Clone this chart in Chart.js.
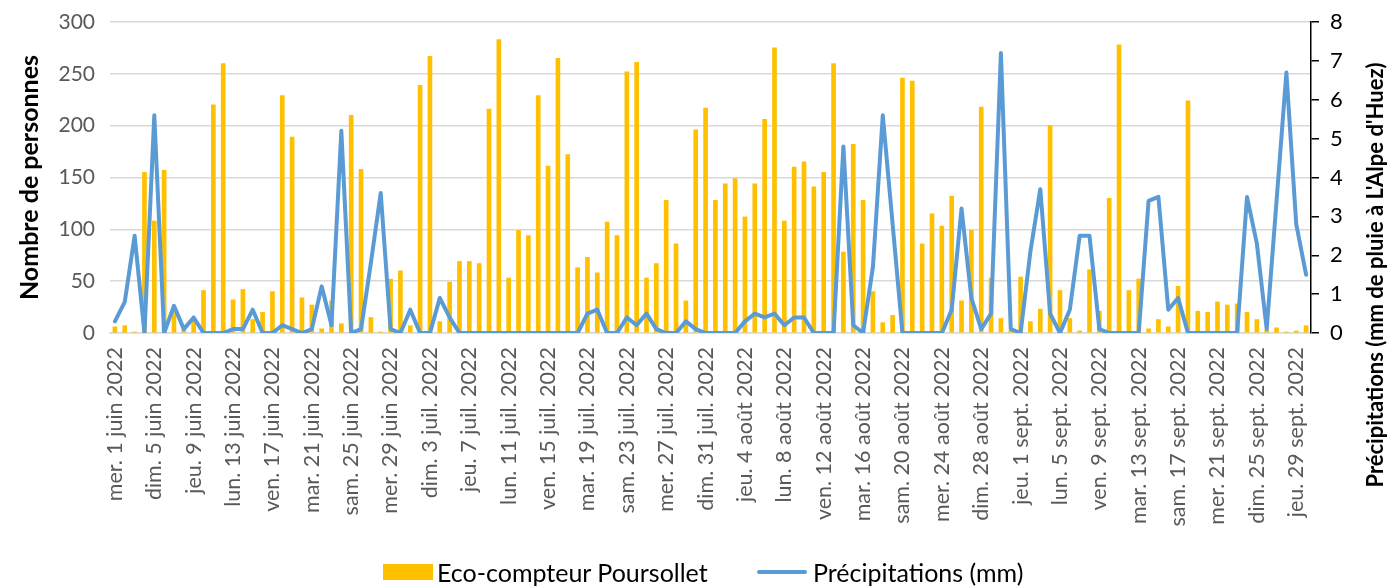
<!DOCTYPE html>
<html lang="fr">
<head>
<meta charset="utf-8">
<title>Eco-compteur Poursollet</title>
<script src="https://cdn.jsdelivr.net/npm/chart.js@4.4.1/dist/chart.umd.min.js"></script>
<style>
    body { margin: 0; background: #fff; }
    #wrap { position: relative; width: 1390px; height: 586px; }
    #legende { font-family: Lato, sans-serif; font-size: 25px; color: #000; }
    .item { position: absolute; top: 557px; white-space: nowrap; line-height: 30px; }
    .boite { position: absolute; top: 564px; left: 383px; width: 50px; height: 16px; background: #FFC000; }
    .trait { position: absolute; top: 570px; left: 757px; width: 50px; height: 4px; background: #5B9BD5; border-radius: 2px; }
</style>
</head>
<body>
<div id="wrap">
    <canvas id="graphique" width="1390" height="586"></canvas>
    <div id="legende">
        <div class="boite"></div>
        <div class="item" style="left: 437px;">Eco-compteur Poursollet</div>
        <div class="trait"></div>
        <div class="item" style="left: 813px;">Précipitations (mm)</div>
    </div>
</div>
<script>
// 1 juin -> 30 sept. 2022, one value per day
const joursSemaine = ["dim.", "lun.", "mar.", "mer.", "jeu.", "ven.", "sam."];
const moisNoms = ["juin", "juil.", "août", "sept."];
const moisJours = [30, 31, 31, 30];

const passages = [
    6, 7, 1, 155, 108, 157, 20, 3, 12, 41,
    220, 260, 32, 42, 13, 20, 40, 229, 189, 34,
    27, 4, 31, 9, 210, 158, 15, 1, 52, 60,
    7, 239, 267, 11, 49, 69, 69, 67, 216, 283,
    53, 99, 94, 229, 161, 265, 172, 63, 73, 58,
    107, 94, 252, 261, 53, 67, 128, 86, 31, 196,
    217, 128, 144, 149, 112, 144, 206, 275, 108, 160,
    165, 141, 155, 260, 78, 182, 128, 40, 10, 17,
    246, 243, 86, 115, 103, 132, 31, 99, 218, 53,
    14, 2, 54, 11, 23, 200, 41, 14, 2, 61,
    21, 130, 278, 41, 52, 4, 13, 6, 45, 224,
    21, 20, 30, 27, 28, 20, 13, 3, 5, 1,
    2, 7
];

const pluie = [
    0.3, 0.8, 2.5, 0, 5.6, 0, 0.7, 0.1, 0.4, 0,
    0, 0, 0.1, 0.1, 0.6, 0, 0, 0.2, 0.1, 0,
    0.1, 1.2, 0.2, 5.2, 0, 0.1, 1.8, 3.6, 0.1, 0,
    0.6, 0, 0, 0.9, 0.4, 0, 0, 0, 0, 0,
    0, 0, 0, 0, 0, 0, 0, 0, 0.5, 0.6,
    0, 0, 0.4, 0.2, 0.5, 0.1, 0, 0, 0.3, 0.1,
    0, 0, 0, 0, 0.3, 0.5, 0.4, 0.5, 0.2, 0.4,
    0.4, 0, 0, 0, 4.8, 0.2, 0, 1.7, 5.6, 2.8,
    0, 0, 0, 0, 0, 0.6, 3.2, 0.9, 0.1, 0.5,
    7.2, 0.1, 0, 2.1, 3.7, 0.5, 0, 0.6, 2.5, 2.5,
    0.1, 0, 0, 0, 0, 3.4, 3.5, 0.6, 0.9, 0,
    0, 0, 0, 0, 0, 3.5, 2.3, 0.1, 3.4, 6.7,
    2.8, 1.5
];

const titreGauche = "Nombre de personnes";
const titreDroite = "Précipitations (mm de pluie à L'Alpe d'Huez)";
const police = "Lato, sans-serif";

function buildLabels() {
    const labels = [];
    let jourSemaine = 3; // mer. 1 juin 2022
    moisNoms.forEach((mois, m) => {
        for (let d = 1; d <= moisJours[m]; d++) {
            labels.push(joursSemaine[jourSemaine] + " " + d + " " + mois + " 2022");
            jourSemaine = (jourSemaine + 1) % 7;
        }
    });
    return labels;
}

// axis titles drawn by hand: the right one reads bottom to top
const titresAxes = {
    id: "titresAxes",
    afterDraw(chart) {
        const ctx = chart.ctx;
        const area = chart.chartArea;
        ctx.save();
        ctx.fillStyle = "#000";
        ctx.textAlign = "center";
        ctx.textBaseline = "middle";

        ctx.save();
        ctx.font = "bold 25px " + police;
        ctx.translate(30, (area.top + area.bottom) / 2);
        ctx.rotate(-Math.PI / 2);
        ctx.fillText(titreGauche, 0, 0);
        ctx.restore();

        ctx.font = "bold 22px " + police;
        ctx.translate(1376, 275);
        ctx.rotate(-Math.PI / 2);
        ctx.fillText(titreDroite, 0, 0);
        ctx.restore();
    }
};

// fixed widths so the plot area sits where the original one does
function fixWidth(width) {
    return scale => {
        scale.width = width;
        scale.paddingTop = 0;
        scale.paddingBottom = 0;
    };
}

function drawChart() {
    const labels = buildLabels();
    const ctx = document.getElementById("graphique").getContext("2d");

    new Chart(ctx, {
        type: "bar",
        data: {
            labels: labels,
            datasets: [
                {
                    type: "bar",
                    label: "Eco-compteur Poursollet",
                    data: passages,
                    backgroundColor: "#FFC000",
                    barThickness: 4,
                    yAxisID: "y",
                    order: 2
                },
                {
                    type: "line",
                    label: "Précipitations (mm)",
                    data: pluie,
                    borderColor: "#5B9BD5",
                    borderWidth: 4,
                    borderJoinStyle: "round",
                    borderCapStyle: "round",
                    pointRadius: 0,
                    tension: 0,
                    yAxisID: "y1",
                    order: 1
                }
            ]
        },
        options: {
            responsive: false,
            animation: false,
            layout: { padding: { top: 22, left: 0, right: 0, bottom: 0 } },
            plugins: {
                legend: { display: false },
                tooltip: { enabled: false }
            },
            scales: {
                x: {
                    grid: { display: false },
                    border: { display: true, color: "#d9d9d9", width: 1.5 },
                    ticks: {
                        autoSkip: false,
                        minRotation: 90,
                        maxRotation: 90,
                        padding: 6,
                        color: "#595959",
                        font: { family: police, size: 21.5 },
                        callback: function (value, index) {
                            return index % 4 === 0 ? this.getLabelForValue(value) : "";
                        }
                    },
                    afterFit: scale => { scale.height = 253; }
                },
                y: {
                    position: "left",
                    min: 0,
                    max: 300,
                    ticks: {
                        stepSize: 50,
                        padding: 15,
                        color: "#595959",
                        font: { family: police, size: 21 }
                    },
                    grid: { color: "#d9d9d9", lineWidth: 1.5, drawTicks: false },
                    border: { display: false },
                    afterFit: fixWidth(110)
                },
                y1: {
                    position: "right",
                    min: 0,
                    max: 8,
                    ticks: {
                        stepSize: 1,
                        padding: 11,
                        color: "#000",
                        font: { family: police, size: 22 }
                    },
                    grid: { drawOnChartArea: false, color: "#000", tickLength: 8, lineWidth: 1.5 },
                    border: { color: "#000", width: 1.5 },
                    afterFit: fixWidth(79)
                }
            }
        },
        plugins: [titresAxes]
    });
}

document.addEventListener("DOMContentLoaded", function () {
    drawChart();
});
</script>
</body>
</html>
